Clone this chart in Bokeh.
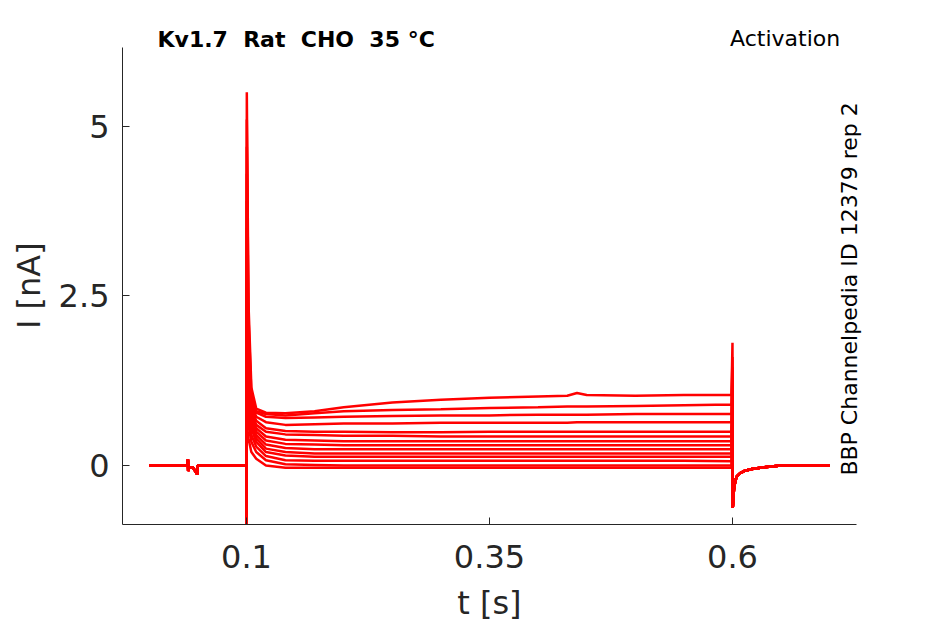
from bokeh.plotting import figure
from bokeh.models import Range1d, FixedTicker, Label, ColumnDataSource
from bokeh.embed import file_html
from bokeh.resources import INLINE

# ---- data ----
# common holding segment before the step (t in s, I in nA)
pre_t = [0.0, 0.0394, 0.0397, 0.0400, 0.0404, 0.045, 0.0493, 0.0496, 0.0500, 0.0999]
pre_i = [0.0, 0.0, 0.09, -0.08, -0.03, -0.03, -0.13, -0.01, 0.0, 0.0]

# test-pulse segment, one row per sweep
step_t = [0.1, 0.1003, 0.102, 0.105, 0.11, 0.12, 0.14, 0.17, 0.2, 0.25, 0.3,
          0.35, 0.4, 0.43, 0.44, 0.45, 0.5, 0.55, 0.599]
step_currents = [
    [-1.15, 5.50, 2.40, 1.15, 0.84, 0.78, 0.77, 0.80, 0.86, 0.93, 0.97, 1.00, 1.02, 1.03, 1.07, 1.04, 1.03, 1.04, 1.04],
    [-1.00, 5.10, 2.20, 1.05, 0.80, 0.76, 0.74, 0.77, 0.80, 0.82, 0.83, 0.85, 0.86, 0.87, 0.87, 0.87, 0.88, 0.89, 0.90],
    [-0.90, 4.70, 2.00, 0.95, 0.78, 0.72, 0.70, 0.71, 0.72, 0.73, 0.74, 0.74, 0.75, 0.75, 0.75, 0.75, 0.76, 0.76, 0.76],
    [-0.80, 4.30, 1.80, 0.90, 0.72, 0.64, 0.60, 0.61, 0.62, 0.62, 0.63, 0.63, 0.63, 0.63, 0.64, 0.64, 0.64, 0.64, 0.64],
    [-0.75, 3.90, 1.60, 0.85, 0.66, 0.55, 0.51, 0.50, 0.50, 0.49, 0.49, 0.50, 0.50, 0.50, 0.50, 0.50, 0.50, 0.50, 0.50],
    [-0.70, 3.50, 1.50, 0.80, 0.60, 0.50, 0.46, 0.45, 0.44, 0.44, 0.43, 0.43, 0.43, 0.43, 0.43, 0.43, 0.43, 0.43, 0.43],
    [-0.65, 3.10, 1.40, 0.75, 0.55, 0.43, 0.38, 0.37, 0.36, 0.36, 0.36, 0.36, 0.36, 0.36, 0.36, 0.36, 0.36, 0.36, 0.36],
    [-0.60, 2.70, 1.30, 0.70, 0.50, 0.37, 0.32, 0.31, 0.30, 0.30, 0.30, 0.30, 0.30, 0.30, 0.30, 0.30, 0.30, 0.30, 0.30],
    [-0.55, 2.30, 1.20, 0.65, 0.45, 0.31, 0.26, 0.24, 0.24, 0.24, 0.24, 0.24, 0.24, 0.24, 0.24, 0.24, 0.24, 0.24, 0.24],
    [-0.50, 1.90, 1.10, 0.60, 0.40, 0.25, 0.20, 0.18, 0.18, 0.18, 0.18, 0.18, 0.18, 0.18, 0.18, 0.18, 0.18, 0.18, 0.18],
    [-0.45, 1.50, 1.00, 0.55, 0.35, 0.20, 0.15, 0.13, 0.13, 0.13, 0.13, 0.13, 0.13, 0.13, 0.13, 0.13, 0.13, 0.13, 0.13],
    [-0.40, 1.20, 0.80, 0.45, 0.28, 0.14, 0.08, 0.07, 0.07, 0.07, 0.07, 0.07, 0.07, 0.07, 0.07, 0.07, 0.07, 0.07, 0.065],
    [-0.35, 0.90, 0.60, 0.35, 0.20, 0.08, 0.02, 0.01, 0.00, 0.00, 0.00, 0.00, 0.00, 0.00, 0.00, 0.00, 0.00, 0.00, 0.00],
    [-0.30, 0.60, 0.40, 0.20, 0.10, 0.00, -0.03, -0.03, -0.03, -0.03, -0.03, -0.03, -0.03, -0.03, -0.03, -0.03, -0.03, -0.03, -0.03],
]

# tail after the step: first value (spike) per sweep, then a common decay
tail_t = [0.6, 0.6003, 0.6015, 0.603, 0.6045, 0.608, 0.612, 0.62, 0.635, 0.65, 0.7]
tail_peaks = [1.81, 1.60, 1.45, 1.30, 1.20, 1.10, 1.00, 0.90, 0.80, 0.70, 0.60, 0.50, 0.40, 0.30]
tail_i = [-0.62, -0.35, -0.22, -0.16, -0.11, -0.08, -0.05, -0.02, 0.0, 0.0]

y_ticks = [0, 2.5, 5]
y_tick_labels = ["0", "2.5", "5"]
x_ticks = [0.1, 0.35, 0.6]
x_tick_labels = ["0.1", "0.35", "0.6"]

title_text = "Kv1.7 \u00a0Rat \u00a0CHO \u00a035 °C"
protocol_text = "Activation"
source_text = "BBP Channelpedia ID 12379 rep 2"

# drawn axes extents, and the (slightly larger) plotting area holding the notes
x_axis_bounds = (-0.0276, 0.7276)
y_axis_bounds = (-0.868, 6.162)
x_view = (-0.0276, 0.7379)
y_view = (-0.868, 6.4706)

# ---- build the sweeps ----
xs, ys = [], []
for row_i, pk in zip(step_currents, tail_peaks):
    xs.append(pre_t + step_t + tail_t)
    ys.append(pre_i + row_i + [pk] + tail_i)
src = ColumnDataSource(dict(xs=xs, ys=ys))

FONT = "DejaVu Sans"
W, H = 945, 624
p = figure(width=W, height=H, output_backend="svg", toolbar_location=None,
           x_range=Range1d(*x_view), y_range=Range1d(*y_view),
           min_border_left=122, min_border_right=W - 866,
           min_border_top=26, min_border_bottom=H - 525)
p.outline_line_color = None
p.xgrid.grid_line_color = None
p.ygrid.grid_line_color = None
p.background_fill_color = "white"
p.border_fill_color = "white"

p.multi_line(xs="xs", ys="ys", source=src, line_color="#FF0000", line_width=2.5)

for ax in (p.xaxis[0], p.yaxis[0]):
    ax.axis_line_color = "#262626"
    ax.major_tick_line_color = "#262626"
    ax.major_tick_in = 7
    ax.major_tick_out = 0
    ax.minor_tick_line_color = None
    ax.major_label_text_font = FONT
    ax.major_label_text_font_size = "32px"
    ax.major_label_text_color = "#262626"
    ax.axis_label_text_font = FONT
    ax.axis_label_text_font_size = "32px"
    ax.axis_label_text_color = "#262626"
    ax.axis_label_text_font_style = "normal"

p.xaxis.bounds = x_axis_bounds
p.yaxis.bounds = y_axis_bounds
p.xaxis.ticker = FixedTicker(ticks=x_ticks)
p.xaxis.major_label_overrides = dict(zip(x_ticks, x_tick_labels))
p.yaxis.ticker = FixedTicker(ticks=y_ticks)
p.yaxis.major_label_overrides = dict(zip(y_ticks, y_tick_labels))
# trailing no-break spaces re-centre the labels on the drawn axes
p.xaxis.axis_label = "t [s]\u00a0"
p.yaxis.axis_label = "I [nA]\u00a0\u00a0"
p.xaxis.major_label_standoff = 20
p.yaxis.major_label_standoff = 13
p.xaxis.axis_label_standoff = 13
p.yaxis.axis_label_standoff = 8

p.add_layout(Label(x=0.0084, y=6.28, text=title_text,
                   text_font=FONT, text_font_size="22px", text_font_style="bold",
                   text_color="black", text_align="left", text_baseline="alphabetic"))
p.add_layout(Label(x=0.7108, y=6.294, text=protocol_text,
                   text_font=FONT, text_font_size="22px",
                   text_color="black", text_align="right", text_baseline="alphabetic"))
p.add_layout(Label(x=0.7204, y=-0.147, text=source_text,
                   angle=90, angle_units="deg",
                   text_font=FONT, text_font_size="22px",
                   text_color="black", text_align="left", text_baseline="alphabetic"))

open("out.html", "w").write(file_html(p, INLINE))
